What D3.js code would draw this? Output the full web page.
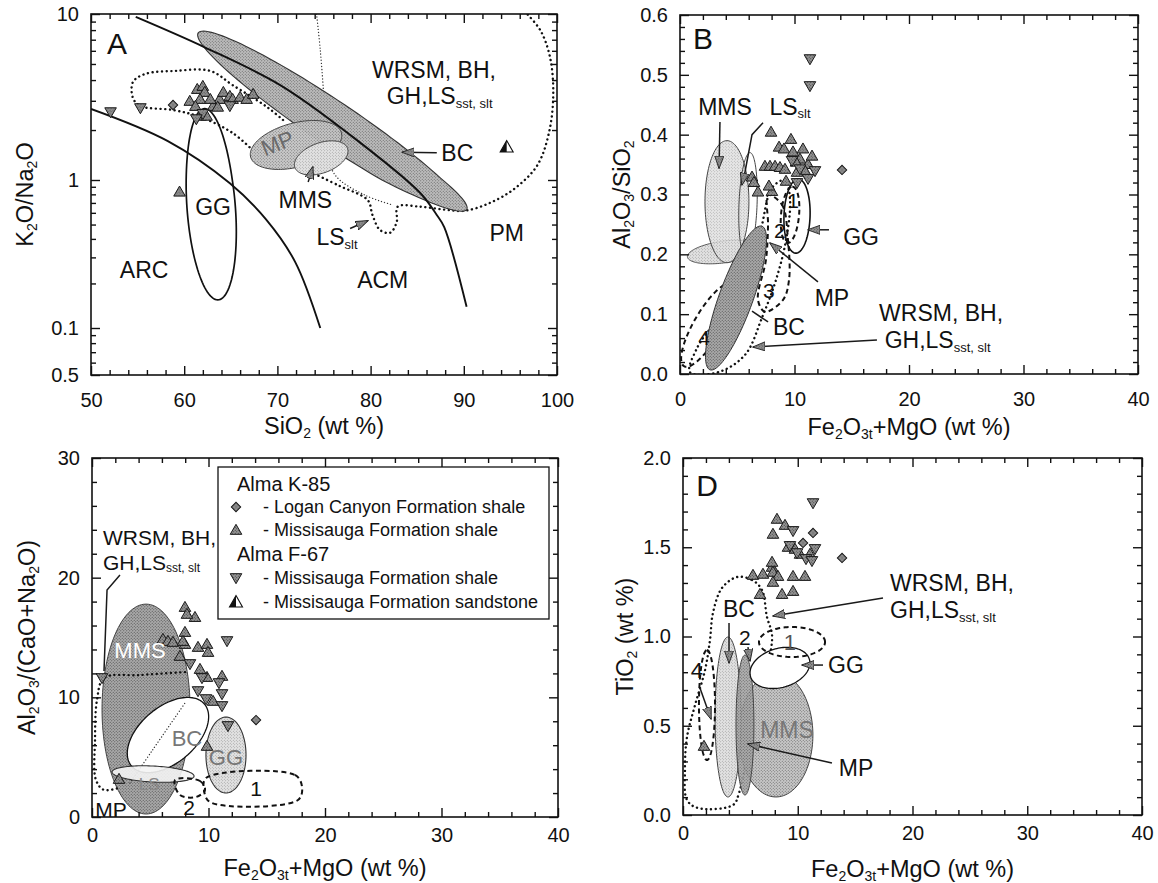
<!DOCTYPE html>
<html>
<head>
<meta charset="utf-8">
<script src="https://cdn.jsdelivr.net/npm/d3@7/dist/d3.min.js"></script>
<style>
  body { margin: 0; background: #fff; }
  svg { display: block; font-family: "Liberation Sans", Arial, Helvetica, sans-serif; }
</style>
</head>
<body>
<script>
const FONT = '"Liberation Sans", Arial, Helvetica, sans-serif';

// ===================== Panel A: K2O/Na2O vs SiO2 =====================
const aXTicks = [50, 60, 70, 80, 90, 100];
const aXLabels = ["50", "60", "70", "80", "90", "100"];
const aYTicks = [0.05, 0.1, 1, 10];
const aYLabels = ["0.5", "0.1", "1", "10"];
const aYMinor = [0.06, 0.07, 0.08, 0.09, 0.2, 0.3, 0.4, 0.5, 0.6, 0.7, 0.8, 0.9, 2, 3, 4, 5, 6, 7, 8, 9];
const aK85Missisauga = [[61.4,3.48],[62.0,3.63],[62.2,3.34],[61.7,3.03],[60.6,2.95],[61.2,2.75],[61.7,2.40],[62.4,2.40],[63.1,2.75],[63.8,3.03],[64.2,3.34],[64.9,3.16],[65.2,3.03],[66.0,3.12],[66.7,3.03],[67.4,3.25],[63.6,2.72],[62.8,3.03],[59.5,0.82]];
const aF67Shale = [[52.1,2.60],[55.3,2.75],[62.0,2.54],[61.3,2.36],[64.9,2.83]];
const aK85Logan = [[58.8,2.83]];
const aF67Sandstone = [[94.6,1.58]];
// ellipse fields: [cx, cy, ax, ay, bx, by], y in log10(K2O/Na2O)
const aFieldBC = [75.9, 0.343, -14.4, 0.543, -1.31, -0.110];
const aFieldMP = [72.0, 0.211, 4.87, 0.073, 0.61, -0.128];
const aFieldMMS = [74.7, 0.133, 2.82, 0.058, 0.55, -0.085];
const aFieldGG = [62.9, -0.19, -0.7, 0.62, 2.6, 0];
// tectonic-setting boundaries and source fields
const aBoundaryPM = [[54.8,9.6],[62.2,6.3],[70.3,3.73],[77.8,1.87],[85.3,0.82],[87.1,0.58],[87.9,0.48],[90.3,0.139]];
const aBoundaryARC = [[50,2.68],[58.2,1.72],[64.9,0.95],[68.8,0.54],[71.9,0.28],[74.6,0.10]];
const aWrsmLoop = [[70.6,2.30],[68.9,2.75],[65.2,3.73],[62.8,4.54],[59.0,4.54],[55.8,4.35],[54.5,3.89],[54.5,3.12],[55.3,2.79],[58.8,2.64],[61.7,2.40],[65.2,1.92],[67.3,1.52]];
const aWrsmOuter = [[73.5,1.12],[76.7,0.91],[79.7,0.73],[80.2,0.58],[81.0,0.46],[82.1,0.44],[82.8,0.52],[82.9,0.66],[85.3,0.66],[88.0,0.63],[90.1,0.62],[92.8,0.70],[95.5,0.88],[97.9,1.23],[99.2,2.0],[99.6,3.48],[99.2,5.66],[98.2,8.0],[96.8,10]];
const aLsThin = [[74.2,10],[74.6,6.07],[75.0,3.03],[75.2,1.63],[76.2,1.07],[79.4,0.79],[82.3,0.68]];
const aArrowBC = [[87.1,1.46],[83.4,1.47]];
const aArrowMMS = [[73.3,0.97],[73.8,1.2]];
const aArrowLS = [[77.8,0.47],[79.7,0.53]];

// ===================== Panel B: Al2O3/SiO2 vs Fe2O3t+MgO =====================
const feTicks = [0, 10, 20, 30, 40];
const feLabels = ["0", "10", "20", "30", "40"];
const bYTicks = [0, 0.1, 0.2, 0.3, 0.4, 0.5, 0.6];
const bYLabels = ["0.0", "0.1", "0.2", "0.3", "0.4", "0.5", "0.6"];
const bK85Missisauga = [[7.95,0.403],[9.69,0.391],[8.65,0.378],[9.08,0.375],[10.74,0.375],[7.42,0.346],[7.86,0.346],[8.30,0.346],[8.73,0.344],[9.17,0.341],[6.29,0.328],[6.46,0.319],[6.81,0.303],[8.03,0.304],[7.77,0.313],[9.26,0.321],[9.87,0.370],[10.48,0.358],[11.18,0.349],[10.92,0.338],[10.22,0.336],[11.53,0.363],[10.13,0.353]];
const bF67Shale = [[11.35,0.528],[11.35,0.483],[9.78,0.358],[10.48,0.344],[11.18,0.328],[10.22,0.321],[11.79,0.341]];
const bK85Logan = [[14.15,0.341]];
const bFieldMMS = [4.10, 0.288, 0, 0.102, 1.92, 0];
const bFieldLS = [5.94, 0.283, 0.17, 0.087, 0.79, 0];
const bFieldMP = [3.84, 0.204, 3.19, 0.0084, 0.13, -0.018];
const bFieldBC = [4.89, 0.127, 2.27, 0.120, 1.39, -0.0096];
const bFieldGG = [10.22, 0.264, 0.1, 0.062, 1.14, 0];
const bField1 = [9.61, 0.266, 0.2, 0.047, 0.79, 0];
const bField4 = [2.45, 0.082, 2.10, 0.069, 1.06, -0.0117];
const bField23 = [[7.69,0.299],[8.91,0.283],[9.43,0.224],[9.52,0.157],[9.00,0.124],[7.42,0.104],[6.81,0.124],[7.51,0.191],[7.69,0.249]];
const bFieldWrsm = [[0.87,0.003],[3.32,0.003],[5.68,0.032],[7.16,0.094],[8.38,0.157],[9.26,0.224],[9.61,0.291],[9.17,0.324],[8.03,0.311],[6.99,0.237],[5.41,0.157],[3.32,0.094],[1.48,0.043]];
const bLeadMMS = [[3.49,0.421],[3.41,0.344]];
const bLeadLS = [[7.25,0.420],[6.29,0.400],[5.68,0.338],[5.41,0.316]];
const bLeadGG = [[13.01,0.241],[11.18,0.241]];
const bLeadMP = [[12.05,0.154],[7.86,0.219]];
const bLeadBC = [[7.69,0.087],[6.29,0.105]];
const bLeadWrsm = [[17.2,0.057],[6.38,0.045]];

// ===================== Panel C: Al2O3/(CaO+Na2O) vs Fe2O3t+MgO =====================
const cYTicks = [0, 10, 20, 30];
const cYLabels = ["0", "10", "20", "30"];
const cK85Missisauga = [[7.98,17.46],[8.84,16.62],[8.15,16.88],[7.98,15.37],[6.09,14.79],[6.52,14.62],[6.95,14.54],[7.98,14.37],[9.10,14.12],[9.87,14.37],[9.96,13.70],[7.55,13.37],[7.81,14.62],[9.27,12.28],[9.87,11.61],[11.16,11.70],[10.39,9.61],[9.87,5.85],[2.32,3.09]];
const cF67Shale = [[11.59,14.79],[0.86,11.70],[9.44,11.70],[10.90,11.28],[9.79,9.94],[11.16,10.36],[11.16,9.36],[11.67,7.69],[9.10,10.61],[8.41,12.87]];
const cK85Logan = [[14.08,8.10]];
const cFieldMMS = [4.64, 9.02, 0, 8.77, 3.78, 0];
const cFieldBC = [6.52, 6.85, 3.13, 2.59, 1.55, -1.78];
const cFieldGG = [11.50, 5.18, 0, 3.17, 1.72, 0];
const cFieldLS = [5.24, 3.59, 3.52, -0.17, 0, 0.67];
const cField1 = [[9.79,3.26],[17.42,3.51],[18.03,2.51],[17.68,1.42],[10.13,1.25],[9.61,2.26]];
const cField2 = [[7.12,3.09],[9.27,3.01],[9.70,2.26],[8.93,1.67],[7.55,1.84]];
const cFieldWrsm = [[7.98,12.11],[4.12,11.86],[1.03,11.61],[0.43,9.78],[0.26,6.43],[0.34,3.09],[1.03,2.26],[2.23,2.42]];
const cThinBC = [[3.26,2.84],[5.2,5.6],[7.98,9.52]];
const cLeadWrsm = [[2.40,20.22],[1.29,18.96],[1.03,12.2]];

// ===================== Panel D: TiO2 vs Fe2O3t+MgO =====================
const dYTicks = [0, 0.5, 1.0, 1.5, 2.0];
const dYLabels = ["0.0", "0.5", "1.0", "1.5", "2.0"];
const dK85Missisauga = [[8.19,1.653],[8.89,1.619],[7.84,1.569],[6.10,1.339],[6.97,1.345],[7.76,1.384],[7.84,1.356],[8.28,1.333],[9.59,1.333],[10.63,1.333],[6.71,1.232],[8.63,1.232],[9.59,1.249],[7.84,1.300],[7.76,1.412],[9.15,1.496],[9.76,1.485],[10.20,1.457],[11.07,1.457],[1.83,0.381]];
const dF67Shale = [[11.33,1.753],[9.59,1.597],[9.32,1.513],[9.94,1.473],[10.72,1.440],[11.50,1.496],[11.24,1.429]];
const dK85Logan = [[11.33,1.580],[10.46,1.524],[13.86,1.440]];
const dFieldMMS = [8.10, 0.448, 0, 0.347, 3.22, 0];
const dFieldBC = [3.92, 0.549, 0, 0.448, 1.13, 0];
const dFieldMP = [5.40, 0.504, 0, 0.392, 0.78, 0];
const dFieldGG = [8.45, 0.824, 2.61, 0.028, 0, 0.112];
const dField1 = [9.50, 0.969, 2.88, 0, 0, 0.084];
const dField4 = [2.09, 0.616, 0, 0.308, 0.70, 0];
const dFieldWrsm = [[4.71,1.333],[6.01,1.317],[6.88,1.261],[7.32,1.109],[7.76,1.008],[7.49,0.868],[6.80,0.683],[5.75,0.381],[4.88,0.123],[4.36,0.056],[1.31,0.039],[0.35,0.084],[0.17,0.252],[0.35,0.437],[1.05,0.616],[1.92,0.812],[2.35,0.980],[2.61,1.132],[3.40,1.272]];
const dLeadWrsm = [[17.43,1.216],[7.84,1.115]];
const dLeadBC = [[4.01,1.076],[4.01,0.852]];
const dLead2 = [[5.66,0.94],[5.84,0.863]];
const dLeadGG = [[12.20,0.840],[10.37,0.840]];
const dLead4 = [[1.48,0.711],[2.44,0.538]];
const dLeadMP = [[12.98,0.291],[5.66,0.398]];

const feMinor = d3.range(2, 40, 2).filter(v => v % 10 !== 0);

// ===================== drawing helpers =====================
const svg = d3.select("body").append("svg").attr("width", 1158).attr("height", 883);
const defs = svg.append("defs");

function stipple(id, base, dot, r) {
  const p = defs.append("pattern").attr("id", id).attr("width", 3).attr("height", 3)
    .attr("patternUnits", "userSpaceOnUse");
  p.append("rect").attr("width", 3).attr("height", 3).attr("fill", base);
  p.append("circle").attr("cx", 0.75).attr("cy", 0.75).attr("r", r).attr("fill", dot);
  p.append("circle").attr("cx", 2.25).attr("cy", 2.25).attr("r", r).attr("fill", dot);
}
stipple("stDark", "#a9a9a9", "#4a4a4a", 0.55);
stipple("stMidDark", "#bcbcbc", "#555", 0.5);
stipple("stMid", "#c8c8c8", "#5a5a5a", 0.5);
stipple("stLight", "#e2e2e2", "#7a7a7a", 0.45);
stipple("stMark", "#949494", "#2a2a2a", 0.5);

defs.append("marker").attr("id", "arrowHead").attr("viewBox", "0 0 13 10")
  .attr("refX", 12).attr("refY", 5).attr("markerWidth", 13).attr("markerHeight", 10)
  .attr("markerUnits", "userSpaceOnUse").attr("orient", "auto")
  .append("path").attr("d", "M0,0.5 L12.5,5 L0,9.5 Z")
  .attr("fill", "url(#stMark)").attr("stroke", "#222").attr("stroke-width", 0.9);

function makePanel(id, box) {
  defs.append("clipPath").attr("id", "clip" + id).append("rect")
    .attr("x", box.l).attr("y", box.t).attr("width", box.r - box.l).attr("height", box.b - box.t);
  return svg.append("g").attr("clip-path", `url(#clip${id})`);
}

function ellipsePts(e, logY) {
  return d3.range(120).map(i => {
    const t = (i / 120) * 2 * Math.PI;
    const px = e[0] + e[2] * Math.cos(t) + e[4] * Math.sin(t);
    let py = e[1] + e[3] * Math.cos(t) + e[5] * Math.sin(t);
    if (logY) py = Math.pow(10, py);
    return [px, py];
  });
}

function drawArea(g, x, y, pts, closedCurve, st) {
  const line = d3.line().x(d => x(d[0])).y(d => y(d[1])).curve(closedCurve);
  const p = g.append("path").attr("d", line(pts))
    .attr("fill", st.fill || "none").attr("stroke", st.stroke || "#111")
    .attr("stroke-width", st.sw || 1.2);
  if (st.dash) p.attr("stroke-dasharray", st.dash).attr("stroke-linecap", st.cap || "butt");
  if (st.opacity) p.attr("fill-opacity", st.opacity);
  return p;
}
function drawEllipse(g, x, y, e, st, logY) {
  return drawArea(g, x, y, ellipsePts(e, logY), d3.curveLinearClosed, st);
}
function drawCurve(g, x, y, pts, st, closed) {
  return drawArea(g, x, y, pts, closed ? d3.curveCatmullRomClosed.alpha(0.5) : d3.curveCatmullRom.alpha(0.5), st);
}
function drawLeader(g, x, y, pts, arrow) {
  const line = d3.line().x(d => x(d[0])).y(d => y(d[1]));
  const p = g.append("path").attr("d", line(pts)).attr("fill", "none")
    .attr("stroke", "#1a1a1a").attr("stroke-width", 1.5);
  if (arrow) p.attr("marker-end", "url(#arrowHead)");
}

const DOTTED = { stroke: "#111", sw: 2.4, dash: "0.1 4.6", cap: "round" };
const FINE_DOT = { stroke: "#333", sw: 1.3, dash: "0.1 3", cap: "round" };
const DASHED = { stroke: "#111", sw: 2, dash: "5 3.5" };

const symUp = d3.symbol(d3.symbolTriangle, 58)();
const symDiamond = d3.symbol(d3.symbolSquare, 44)();
function drawPoints(g, x, y, pts, kind) {
  g.selectAll(null).data(pts).join("path")
    .attr("d", kind === "diamond" ? symDiamond : symUp)
    .attr("transform", d => `translate(${x(d[0])},${y(d[1])})` +
      (kind === "down" ? " rotate(180)" : kind === "diamond" ? " rotate(45)" : ""))
    .attr("fill", "url(#stMark)").attr("stroke", "#1a1a1a").attr("stroke-width", 1);
}
function sandstoneMark(g, cx, cy) {
  g.append("path").attr("d", "M0,-6.5 L6.5,5 L-6.5,5 Z").attr("transform", `translate(${cx},${cy})`)
    .attr("fill", "#fff").attr("stroke", "#111").attr("stroke-width", 1.1);
  g.append("path").attr("d", "M0,-6.5 L0,5 L-6.5,5 Z").attr("transform", `translate(${cx},${cy})`)
    .attr("fill", "#111");
}

// text with "_{...}" subscripts
function rich(sel, str, size, sub) {
  const parts = str.split(/(_\{[^}]*\})/).filter(s => s.length);
  const shift = size * 0.3;
  let low = false;
  parts.forEach(p => {
    const m = p.match(/^_\{([^}]*)\}$/);
    if (m) {
      sel.append("tspan").attr("font-size", sub).attr("dy", low ? 0 : shift).text(m[1]);
      low = true;
    } else {
      sel.append("tspan").attr("font-size", size).attr("dy", low ? -shift : 0).text(p);
      low = false;
    }
  });
  return sel;
}
function label(px, py, str, o = {}) {
  const size = o.size || 23;
  const t = svg.append("text").attr("x", px).attr("y", py)
    .attr("text-anchor", o.anchor || "middle").attr("dominant-baseline", "central")
    .attr("fill", o.fill || "#111").attr("font-size", size).attr("font-family", FONT);
  if (o.rotate) t.attr("transform", `rotate(${o.rotate},${px},${py})`);
  return rich(t, str, size, o.sub || Math.round(size * 0.58));
}

function drawAxes(box, x, y, o) {
  const g = svg.append("g");
  const none = () => "";
  const put = (fn, vals, len, fmt, pad, tr, scale) => {
    const a = fn(scale).tickValues(vals).tickSizeInner(-len).tickSizeOuter(0).tickPadding(pad).tickFormat(fmt);
    const s = g.append("g").attr("transform", tr).call(a);
    s.select(".domain").remove();
    s.selectAll(".tick line").attr("stroke", "#111").attr("stroke-width", 1.4);
    s.selectAll(".tick text").attr("font-size", 20).attr("fill", "#111").attr("font-family", FONT);
  };
  const tb = `translate(0,${box.b})`, tt = `translate(0,${box.t})`;
  const tl = `translate(${box.l},0)`, tr = `translate(${box.r},0)`;
  put(d3.axisBottom, o.xMajor, 9, (d, i) => o.xLabels[i], o.xPad, tb, x);
  put(d3.axisBottom, o.xMinor, 5, none, 0, tb, x);
  put(d3.axisTop, o.xMajor, 9, none, 0, tt, x);
  put(d3.axisTop, o.xMinor, 5, none, 0, tt, x);
  put(d3.axisLeft, o.yMajor, 9, (d, i) => o.yLabels[i], 12, tl, y);
  put(d3.axisLeft, o.yMinor, 5, none, 0, tl, y);
  put(d3.axisRight, o.yMajor, 9, none, 0, tr, y);
  put(d3.axisRight, o.yMinor, 5, none, 0, tr, y);
  g.append("rect").attr("x", box.l).attr("y", box.t).attr("width", box.r - box.l)
    .attr("height", box.b - box.t).attr("fill", "none").attr("stroke", "#111").attr("stroke-width", 1.6);
  label((box.l + box.r) / 2, o.xTitleY, o.xTitle, { size: 23.5 });
  label(o.yTitleX, (box.t + box.b) / 2, o.yTitle, { size: 23.5, rotate: -90 });
}

// ===================== Panel A =====================
{
  const box = { l: 91, r: 557, t: 14, b: 375 };
  const x = d3.scaleLinear().domain([50, 100]).range([box.l, box.r]);
  const y = d3.scaleLog().domain([0.05, 0.1, 1, 10]).range([375, 328, 180, 14]);
  const g = makePanel("A", box);
  drawCurve(g, x, y, aWrsmLoop, DOTTED, false);
  drawCurve(g, x, y, aWrsmOuter, DOTTED, false);
  drawCurve(g, x, y, aLsThin, FINE_DOT, false);
  drawEllipse(g, x, y, aFieldBC, { fill: "url(#stMidDark)", stroke: "#333", sw: 1.1 }, true);
  drawEllipse(g, x, y, aFieldMP, { fill: "url(#stMid)", stroke: "#444", sw: 1, opacity: 0.95 }, true);
  drawEllipse(g, x, y, aFieldMMS, { fill: "url(#stLight)", stroke: "#444", sw: 1 }, true);
  drawEllipse(g, x, y, aFieldGG, { stroke: "#111", sw: 1.7 }, true);
  drawCurve(g, x, y, aBoundaryPM, { stroke: "#111", sw: 1.9 }, false);
  drawCurve(g, x, y, aBoundaryARC, { stroke: "#111", sw: 1.9 }, false);
  drawPoints(g, x, y, aK85Missisauga, "up");
  drawPoints(g, x, y, aF67Shale, "down");
  drawPoints(g, x, y, aK85Logan, "diamond");
  aF67Sandstone.forEach(d => sandstoneMark(g, x(d[0]), y(d[1])));
  drawLeader(svg, x, y, aArrowBC, true);
  drawLeader(svg, x, y, aArrowMMS, true);
  drawLeader(svg, x, y, aArrowLS, true);
  drawAxes(box, x, y, {
    xMajor: aXTicks, xLabels: aXLabels, xMinor: d3.range(52, 100, 2).filter(v => v % 10 !== 0), xPad: 18,
    yMajor: aYTicks, yLabels: aYLabels, yMinor: aYMinor,
    xTitle: "SiO_{2} (wt %)", xTitleY: 426, yTitle: "K_{2}O/Na_{2}O", yTitleX: 25
  });
  const L = (vx, vy, s, o) => label(x(vx), y(vy), s, o);
  L(52.8, 6.7, "A", { size: 30 });
  L(86.8, 4.6, "WRSM, BH,");
  L(87.4, 3.2, "GH,LS_{sst, slt}", { sub: 13 });
  L(55.7, 0.247, "ARC");
  L(81.3, 0.211, "ACM");
  L(94.6, 0.44, "PM");
  L(63.1, 0.66, "GG");
  L(73.0, 0.73, "MMS");
  L(76.4, 0.41, "LS_{slt}", { sub: 13 });
  L(89.3, 1.46, "BC");
  L(70.0, 1.67, "MP", { fill: "#6a6a6a", rotate: -22, size: 22 });
}

// ===================== Panel B =====================
{
  const box = { l: 680, r: 1138, t: 15, b: 374 };
  const x = d3.scaleLinear().domain([0, 40]).range([box.l, box.r]);
  const y = d3.scaleLinear().domain([0, 0.6]).range([box.b, box.t]);
  const g = makePanel("B", box);
  drawCurve(g, x, y, bFieldWrsm, DOTTED, true);
  drawEllipse(g, x, y, bField4, DASHED);
  drawEllipse(g, x, y, bFieldMP, { fill: "url(#stLight)", stroke: "#555", sw: 1 });
  drawEllipse(g, x, y, bFieldMMS, { fill: "url(#stLight)", stroke: "#444", sw: 1, opacity: 0.85 });
  drawEllipse(g, x, y, bFieldLS, { stroke: "#444", sw: 1 });
  drawEllipse(g, x, y, bFieldBC, { fill: "url(#stDark)", stroke: "#333", sw: 1 });
  drawEllipse(g, x, y, bFieldGG, { stroke: "#111", sw: 1.6 });
  drawEllipse(g, x, y, bField1, DASHED);
  drawCurve(g, x, y, bField23, DASHED, true);
  drawPoints(g, x, y, bK85Missisauga, "up");
  drawPoints(g, x, y, bF67Shale, "down");
  drawPoints(g, x, y, bK85Logan, "diamond");
  drawLeader(svg, x, y, bLeadMMS, true);
  drawLeader(svg, x, y, bLeadLS, true);
  drawLeader(svg, x, y, bLeadGG, true);
  drawLeader(svg, x, y, bLeadMP, true);
  drawLeader(svg, x, y, bLeadBC, false);
  drawLeader(svg, x, y, bLeadWrsm, true);
  drawAxes(box, x, y, {
    xMajor: feTicks, xLabels: feLabels, xMinor: feMinor, xPad: 18,
    yMajor: bYTicks, yLabels: bYLabels, yMinor: d3.range(0.02, 0.6, 0.02).filter((v, i) => (i + 1) % 5 !== 0),
    xTitle: "Fe_{2}O_{3t}+MgO (wt %)", xTitleY: 427, yTitle: "Al_{2}O_{3}/SiO_{2}", yTitleX: 622
  });
  const L = (vx, vy, s, o) => label(x(vx), y(vy), s, o);
  L(2.0, 0.562, "B", { size: 30 });
  L(3.93, 0.447, "MMS");
  L(9.61, 0.447, "LS_{slt}", { sub: 13 });
  L(15.81, 0.229, "GG");
  L(13.27, 0.127, "MP");
  L(9.52, 0.079, "BC");
  L(22.8, 0.102, "WRSM, BH,");
  L(22.5, 0.057, "GH,LS_{sst, slt}", { sub: 13 });
  L(9.87, 0.291, "1", { size: 21 });
  L(8.73, 0.241, "2", { size: 21 });
  L(7.77, 0.140, "3", { size: 21 });
  L(2.10, 0.062, "4", { size: 21 });
}

// ===================== Panel C =====================
{
  const box = { l: 92, r: 558, t: 458, b: 817 };
  const x = d3.scaleLinear().domain([0, 40]).range([box.l, box.r]);
  const y = d3.scaleLinear().domain([0, 30]).range([box.b, box.t]);
  const g = makePanel("C", box);
  drawEllipse(g, x, y, cFieldMMS, { fill: "url(#stDark)", stroke: "#444", sw: 1 });
  drawEllipse(g, x, y, cFieldBC, { fill: "#fff", stroke: "#111", sw: 1.3 });
  drawCurve(g, x, y, cThinBC, FINE_DOT, false);
  drawEllipse(g, x, y, cFieldGG, { fill: "url(#stLight)", stroke: "#333", sw: 1.1 });
  drawEllipse(g, x, y, cFieldLS, { fill: "#f4f4f4", stroke: "#333", sw: 1.1, opacity: 0.9 });
  drawCurve(g, x, y, cFieldWrsm, DOTTED, false);
  drawCurve(g, x, y, cField1, DASHED, true);
  drawCurve(g, x, y, cField2, DASHED, true);
  drawPoints(g, x, y, cK85Missisauga, "up");
  drawPoints(g, x, y, cF67Shale, "down");
  drawPoints(g, x, y, cK85Logan, "diamond");
  drawLeader(svg, x, y, cLeadWrsm, false);
  drawAxes(box, x, y, {
    xMajor: feTicks, xLabels: feLabels, xMinor: feMinor, xPad: 11,
    yMajor: cYTicks, yLabels: cYLabels, yMinor: d3.range(2, 30, 2).filter(v => v % 10 !== 0),
    xTitle: "Fe_{2}O_{3t}+MgO (wt %)", xTitleY: 868, yTitle: "Al_{2}O_{3}/(CaO+Na_{2}O)", yTitleX: 27
  });
  const L = (vx, vy, s, o) => label(x(vx), y(vy), s, o);
  L(0.94, 23.39, "WRSM, BH,", { anchor: "start", size: 21 });
  L(0.94, 21.30, "GH,LS_{sst, slt}", { anchor: "start", size: 21, sub: 12 });
  L(4.12, 13.95, "MMS", { fill: "#fff", size: 22 });
  L(8.15, 6.60, "BC", { fill: "#777", size: 22 });
  L(11.50, 5.01, "GG", { fill: "#777", size: 22 });
  L(4.9, 2.75, "LS", { fill: "#888", size: 17 });
  L(1.63, 0.67, "MP", { size: 21 });
  L(14.08, 2.42, "1", { size: 21 });
  L(8.33, 0.84, "2", { size: 21 });

  // legend
  const lg = svg.append("g");
  lg.append("rect").attr("x", 218).attr("y", 467).attr("width", 331).attr("height", 152)
    .attr("fill", "#fff").attr("stroke", "#111").attr("stroke-width", 1.3);
  const head = (ty, s) => lg.append("text").attr("x", 237).attr("y", ty).attr("dominant-baseline", "central")
    .attr("font-size", 20).attr("font-family", FONT).attr("fill", "#111").text(s);
  const entry = (ty, s) => lg.append("text").attr("x", 263).attr("y", ty).attr("dominant-baseline", "central")
    .attr("font-size", 18).attr("font-family", FONT).attr("fill", "#111").text(s);
  head(484, "Alma K-85");
  entry(507, "- Logan Canyon Formation shale");
  entry(530, "- Missisauga Formation shale");
  head(554, "Alma F-67");
  entry(578, "- Missisauga Formation shale");
  entry(602, "- Missisauga Formation sandstone");
  const ls = (cx, cy, kind) => lg.append("path")
    .attr("d", kind === "diamond" ? symDiamond : symUp)
    .attr("transform", `translate(${cx},${cy})` + (kind === "down" ? " rotate(180)" : kind === "diamond" ? " rotate(45)" : ""))
    .attr("fill", "url(#stMark)").attr("stroke", "#1a1a1a").attr("stroke-width", 1);
  ls(236, 507, "diamond");
  ls(236, 531, "up");
  ls(236, 577, "down");
  sandstoneMark(lg, 236, 602);
}

// ===================== Panel D =====================
{
  const box = { l: 683, r: 1142, t: 458, b: 815 };
  const x = d3.scaleLinear().domain([0, 40]).range([box.l, box.r]);
  const y = d3.scaleLinear().domain([0, 2]).range([box.b, box.t]);
  const g = makePanel("D", box);
  drawCurve(g, x, y, dFieldWrsm, DOTTED, true);
  drawEllipse(g, x, y, dFieldMMS, { fill: "url(#stMid)", stroke: "#444", sw: 1 });
  drawEllipse(g, x, y, dFieldBC, { fill: "url(#stLight)", stroke: "#444", sw: 1 });
  drawEllipse(g, x, y, dFieldMP, { fill: "url(#stDark)", stroke: "#444", sw: 1, opacity: 0.9 });
  drawEllipse(g, x, y, dFieldGG, { fill: "#fff", stroke: "#111", sw: 1.3 });
  drawEllipse(g, x, y, dField1, DASHED);
  drawEllipse(g, x, y, dField4, DASHED);
  drawPoints(g, x, y, dK85Missisauga, "up");
  drawPoints(g, x, y, dF67Shale, "down");
  drawPoints(g, x, y, dK85Logan, "diamond");
  drawLeader(svg, x, y, dLeadWrsm, true);
  drawLeader(svg, x, y, dLeadBC, true);
  drawLeader(svg, x, y, dLead2, true);
  drawLeader(svg, x, y, dLeadGG, true);
  drawLeader(svg, x, y, dLead4, true);
  drawLeader(svg, x, y, dLeadMP, true);
  drawAxes(box, x, y, {
    xMajor: feTicks, xLabels: feLabels, xMinor: feMinor, xPad: 11,
    yMajor: dYTicks, yLabels: dYLabels, yMinor: d3.range(0.1, 2, 0.1).filter((v, i) => (i + 1) % 5 !== 0),
    xTitle: "Fe_{2}O_{3t}+MgO (wt %)", xTitleY: 869, yTitle: "TiO_{2} (wt %)", yTitleX: 625
  });
  const L = (vx, vy, s, o) => label(x(vx), y(vy), s, o);
  L(2.09, 1.849, "D", { size: 30 });
  L(18.04, 1.300, "WRSM, BH,", { anchor: "start" });
  L(18.04, 1.148, "GH,LS_{sst, slt}", { anchor: "start", sub: 13 });
  L(4.88, 1.152, "BC");
  L(5.40, 1.0, "2", { size: 21 });
  L(9.32, 0.969, "1", { size: 22, fill: "#555" });
  L(14.20, 0.840, "GG");
  L(1.22, 0.812, "4", { size: 22 });
  L(9.06, 0.476, "MMS", { fill: "#777" });
  L(15.08, 0.263, "MP");
}
</script>
</body>
</html>
